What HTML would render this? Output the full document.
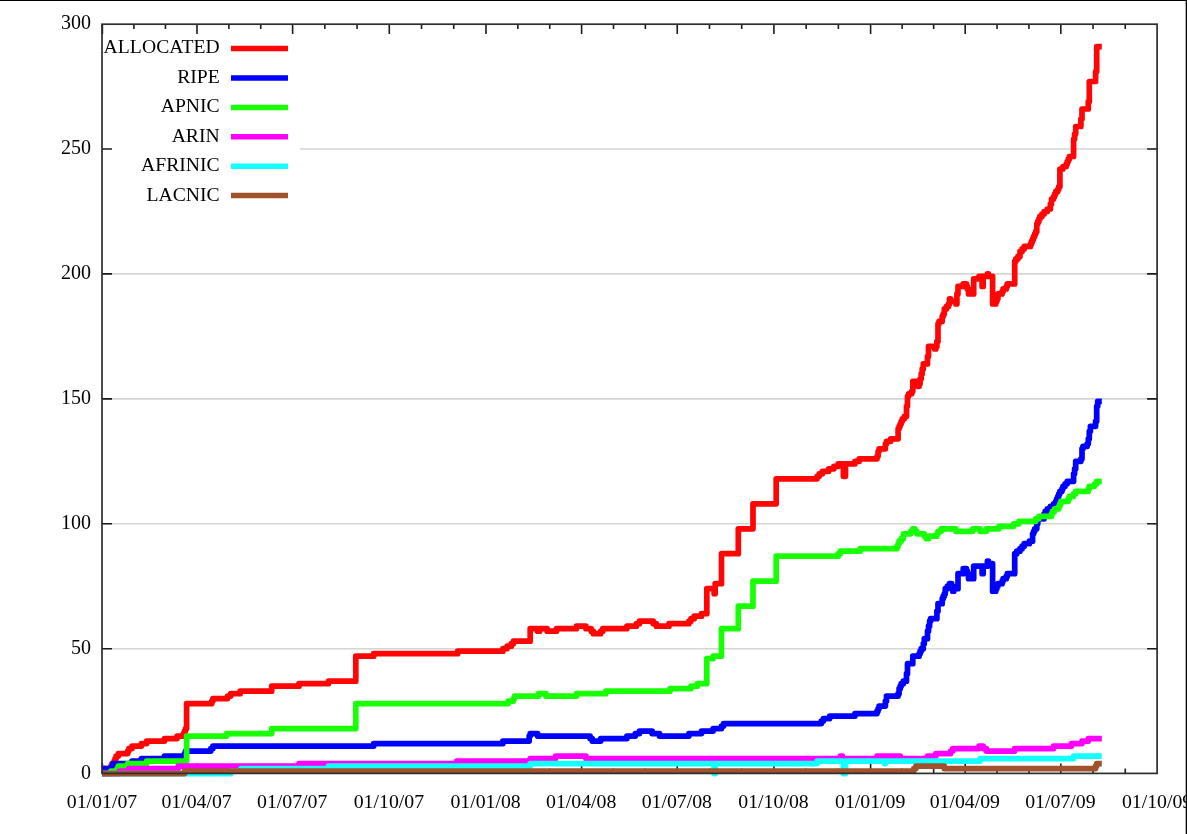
<!DOCTYPE html>
<html><head><meta charset="utf-8"><title>Allocations</title>
<style>
html,body{margin:0;padding:0;background:#fff;}
body{width:1187px;height:834px;overflow:hidden;font-family:"Liberation Serif",serif;}
svg{display:block;will-change:transform;}
text{font-family:"Liberation Serif",serif;fill:#000;}
</style></head>
<body>
<svg width="1187" height="834" viewBox="0 0 1187 834">
<rect x="0" y="0" width="1187" height="834" fill="#fff"/>
<g stroke="#d3d5d5" stroke-width="1.6" fill="none">
<path d="M102.0 648.68 H1157.1"/>
<path d="M102.0 523.76 H1157.1"/>
<path d="M102.0 398.84 H1157.1"/>
<path d="M102.0 273.91 H1157.1"/>
<path d="M300.0 148.99 H1157.1"/>
</g>
<g stroke="#1c1c1c" stroke-width="1.6" fill="none">
<path d="M102.40 773.6v-10M102.40 24.1v10M133.93 773.6v-5M133.93 24.1v5M165.45 773.6v-5M165.45 24.1v5M196.98 773.6v-10M196.98 24.1v10M228.86 773.6v-5M228.86 24.1v5M260.74 773.6v-5M260.74 24.1v5M292.61 773.6v-10M292.61 24.1v10M324.84 773.6v-5M324.84 24.1v5M357.07 773.6v-5M357.07 24.1v5M389.29 773.6v-10M389.29 24.1v10M421.52 773.6v-5M421.52 24.1v5M453.75 773.6v-5M453.75 24.1v5M485.98 773.6v-10M485.98 24.1v10M517.85 773.6v-5M517.85 24.1v5M549.73 773.6v-5M549.73 24.1v5M581.61 773.6v-10M581.61 24.1v10M613.49 773.6v-5M613.49 24.1v5M645.36 773.6v-5M645.36 24.1v5M677.24 773.6v-10M677.24 24.1v10M709.47 773.6v-5M709.47 24.1v5M741.70 773.6v-5M741.70 24.1v5M773.92 773.6v-10M773.92 24.1v10M806.15 773.6v-5M806.15 24.1v5M838.38 773.6v-5M838.38 24.1v5M870.61 773.6v-10M870.61 24.1v10M902.13 773.6v-5M902.13 24.1v5M933.66 773.6v-5M933.66 24.1v5M965.19 773.6v-10M965.19 24.1v10M997.06 773.6v-5M997.06 24.1v5M1028.94 773.6v-5M1028.94 24.1v5M1060.82 773.6v-10M1060.82 24.1v10M1093.05 773.6v-5M1093.05 24.1v5M1125.27 773.6v-5M1125.27 24.1v5M102.0 648.68h10M1157.1 648.68h-10M102.0 523.76h10M1157.1 523.76h-10M102.0 398.84h10M1157.1 398.84h-10M102.0 273.91h10M1157.1 273.91h-10M102.0 148.99h10M1157.1 148.99h-10"/>
</g>
<g fill="none" stroke-width="5.7" stroke-linejoin="round" stroke-linecap="butt">
<path stroke="#ff0505" d="M102.0 768.6L110.9 768.6L110.9 766.1L112.0 766.1L112.0 763.6L114.1 763.6L114.1 761.1L115.1 761.1L115.1 758.6L116.2 758.6L116.2 756.1L118.3 756.1L118.3 753.6L127.7 753.6L127.7 751.1L128.8 751.1L128.8 748.6L132.0 748.6L132.0 746.1L141.4 746.1L141.4 743.6L146.7 743.6L146.7 741.1L164.5 741.1L164.5 738.6L177.1 738.6L177.1 736.1L183.4 736.1L183.4 733.6L184.5 733.6L184.5 731.1L185.5 731.1L185.5 728.6L186.6 728.6L186.6 703.6L211.8 703.6L211.8 701.1L212.9 701.1L212.9 698.6L227.6 698.6L227.6 696.1L230.7 696.1L230.7 693.7L240.2 693.7L240.2 691.2L271.7 691.2L271.7 686.2L299.0 686.2L299.0 683.7L328.5 683.7L328.5 681.2L355.8 681.2L355.8 656.2L373.7 656.2L373.7 653.7L457.7 653.7L457.7 651.2L502.9 651.2L502.9 648.7L507.1 648.7L507.1 646.2L511.3 646.2L511.3 643.7L513.4 643.7L513.4 641.2L530.2 641.2L530.2 628.7L537.6 628.7L537.6 631.2L539.7 631.2L539.7 628.7L547.1 628.7L547.1 631.2L556.5 631.2L556.5 628.7L576.5 628.7L576.5 626.2L585.9 626.2L585.9 628.7L591.2 628.7L591.2 631.2L593.3 631.2L593.3 633.7L600.7 633.7L600.7 631.2L602.8 631.2L602.8 628.7L626.9 628.7L626.9 626.2L636.4 626.2L636.4 623.7L639.5 623.7L639.5 621.2L653.2 621.2L653.2 623.7L656.3 623.7L656.3 626.2L669.0 626.2L669.0 623.7L688.9 623.7L688.9 621.2L691.0 621.2L691.0 618.7L694.2 618.7L694.2 616.2L701.5 616.2L701.5 613.7L706.8 613.7L706.8 588.7L714.1 588.7L714.1 593.7L715.2 593.7L715.2 583.7L721.5 583.7L721.5 553.7L738.3 553.7L738.3 528.8L753.0 528.8L753.0 503.8L776.2 503.8L776.2 478.8L817.1 478.8L817.1 476.3L819.2 476.3L819.2 473.8L822.4 473.8L822.4 471.3L828.7 471.3L828.7 468.8L833.9 468.8L833.9 466.3L838.2 466.3L838.2 463.8L843.4 463.8L843.4 476.3L845.5 476.3L845.5 463.8L855.0 463.8L855.0 461.3L859.2 461.3L859.2 458.8L877.0 458.8L877.0 456.3L878.1 456.3L878.1 451.3L879.1 451.3L879.1 448.8L885.4 448.8L885.4 443.8L886.5 443.8L886.5 441.3L890.7 441.3L890.7 438.8L898.1 438.8L898.1 428.8L899.1 428.8L899.1 426.3L900.2 426.3L900.2 423.8L901.2 423.8L901.2 421.3L902.3 421.3L902.3 418.8L904.4 418.8L904.4 416.3L906.5 416.3L906.5 406.3L907.5 406.3L907.5 396.3L908.6 396.3L908.6 393.8L911.7 393.8L911.7 391.3L912.8 391.3L912.8 381.3L918.0 381.3L918.0 386.3L919.1 386.3L919.1 383.8L920.1 383.8L920.1 378.8L921.2 378.8L921.2 373.9L922.2 373.9L922.2 368.9L923.3 368.9L923.3 363.9L927.5 363.9L927.5 356.4L928.5 356.4L928.5 346.4L934.8 346.4L934.8 348.9L935.9 348.9L935.9 346.4L936.9 346.4L936.9 341.4L938.0 341.4L938.0 323.9L939.0 323.9L939.0 321.4L942.2 321.4L942.2 316.4L943.2 316.4L943.2 313.9L944.3 313.9L944.3 308.9L946.4 308.9L946.4 306.4L948.5 306.4L948.5 303.9L949.5 303.9L949.5 298.9L950.6 298.9L950.6 301.4L955.9 301.4L955.9 303.9L956.9 303.9L956.9 293.9L958.0 293.9L958.0 286.4L963.2 286.4L963.2 283.9L966.4 283.9L966.4 286.4L967.4 286.4L967.4 288.9L968.5 288.9L968.5 293.9L973.7 293.9L973.7 278.9L979.0 278.9L979.0 276.4L982.1 276.4L982.1 286.4L983.2 286.4L983.2 276.4L987.4 276.4L987.4 273.9L988.4 273.9L988.4 276.4L992.6 276.4L992.6 303.9L995.8 303.9L995.8 301.4L996.8 301.4L996.8 298.9L997.9 298.9L997.9 293.9L1002.1 293.9L1002.1 291.4L1003.1 291.4L1003.1 288.9L1006.3 288.9L1006.3 286.4L1007.3 286.4L1007.3 283.9L1014.7 283.9L1014.7 261.4L1015.8 261.4L1015.8 258.9L1017.9 258.9L1017.9 256.4L1020.0 256.4L1020.0 251.4L1022.1 251.4L1022.1 248.9L1024.2 248.9L1024.2 246.4L1030.5 246.4L1030.5 243.9L1031.5 243.9L1031.5 241.4L1032.6 241.4L1032.6 238.9L1033.6 238.9L1033.6 236.4L1034.7 236.4L1034.7 233.9L1035.7 233.9L1035.7 231.4L1036.8 231.4L1036.8 223.9L1037.8 223.9L1037.8 221.4L1038.9 221.4L1038.9 218.9L1039.9 218.9L1039.9 216.4L1042.0 216.4L1042.0 214.0L1044.1 214.0L1044.1 211.5L1047.3 211.5L1047.3 209.0L1050.4 209.0L1050.4 204.0L1051.5 204.0L1051.5 199.0L1053.6 199.0L1053.6 196.5L1054.6 196.5L1054.6 194.0L1055.7 194.0L1055.7 191.5L1057.8 191.5L1057.8 189.0L1058.8 189.0L1058.8 186.5L1059.9 186.5L1059.9 169.0L1063.0 169.0L1063.0 166.5L1066.2 166.5L1066.2 164.0L1067.2 164.0L1067.2 161.5L1068.3 161.5L1068.3 159.0L1069.4 159.0L1069.4 156.5L1073.6 156.5L1073.6 139.0L1074.6 139.0L1074.6 134.0L1075.7 134.0L1075.7 126.5L1080.9 126.5L1080.9 119.0L1082.0 119.0L1082.0 109.0L1088.3 109.0L1088.3 101.5L1089.3 101.5L1089.3 81.5L1095.6 81.5L1095.6 71.5L1096.7 71.5L1096.7 46.6L1101.8 46.6"/>
<path stroke="#0000ff" d="M102.0 768.6L112.0 768.6L112.0 766.1L113.0 766.1L113.0 763.6L132.0 763.6L132.0 761.1L141.4 761.1L141.4 758.6L164.5 758.6L164.5 756.1L184.5 756.1L184.5 753.6L185.5 753.6L185.5 751.1L210.8 751.1L210.8 748.6L212.9 748.6L212.9 746.1L373.7 746.1L373.7 743.6L502.9 743.6L502.9 741.1L529.2 741.1L529.2 736.1L530.2 736.1L530.2 733.6L537.6 733.6L537.6 736.1L590.1 736.1L590.1 738.6L592.2 738.6L592.2 741.1L600.7 741.1L600.7 738.6L626.9 738.6L626.9 736.1L635.3 736.1L635.3 733.6L639.5 733.6L639.5 731.1L652.1 731.1L652.1 733.6L659.5 733.6L659.5 736.1L688.9 736.1L688.9 733.6L701.5 733.6L701.5 731.1L713.1 731.1L713.1 728.6L721.5 728.6L721.5 726.1L723.6 726.1L723.6 723.6L821.3 723.6L821.3 721.1L823.4 721.1L823.4 718.6L829.7 718.6L829.7 716.1L855.0 716.1L855.0 713.6L877.0 713.6L877.0 711.1L878.1 711.1L878.1 708.6L879.1 708.6L879.1 706.1L885.4 706.1L885.4 701.1L886.5 701.1L886.5 696.1L898.1 696.1L898.1 693.7L899.1 693.7L899.1 688.7L900.2 688.7L900.2 686.2L901.2 686.2L901.2 683.7L903.3 683.7L903.3 681.2L906.5 681.2L906.5 673.7L907.5 673.7L907.5 663.7L912.8 663.7L912.8 656.2L919.1 656.2L919.1 653.7L920.1 653.7L920.1 651.2L921.2 651.2L921.2 648.7L923.3 648.7L923.3 643.7L924.3 643.7L924.3 638.7L927.5 638.7L927.5 631.2L928.5 631.2L928.5 626.2L929.6 626.2L929.6 621.2L930.6 621.2L930.6 618.7L936.9 618.7L936.9 611.2L938.0 611.2L938.0 603.7L942.2 603.7L942.2 598.7L943.2 598.7L943.2 596.2L944.3 596.2L944.3 593.7L945.3 593.7L945.3 588.7L947.4 588.7L947.4 586.2L949.5 586.2L949.5 583.7L951.6 583.7L951.6 586.2L952.7 586.2L952.7 591.2L953.8 591.2L953.8 588.7L958.0 588.7L958.0 573.7L963.2 573.7L963.2 568.7L966.4 568.7L966.4 571.2L967.4 571.2L967.4 573.7L968.5 573.7L968.5 578.7L973.7 578.7L973.7 566.2L982.1 566.2L982.1 573.7L983.2 573.7L983.2 566.2L987.4 566.2L987.4 561.2L988.4 561.2L988.4 563.7L992.6 563.7L992.6 591.2L995.8 591.2L995.8 588.7L996.8 588.7L996.8 586.2L997.9 586.2L997.9 583.7L1002.1 583.7L1002.1 581.2L1003.1 581.2L1003.1 578.7L1006.3 578.7L1006.3 576.2L1007.3 576.2L1007.3 573.7L1014.7 573.7L1014.7 553.7L1016.8 553.7L1016.8 551.2L1020.0 551.2L1020.0 548.7L1022.1 548.7L1022.1 546.2L1024.2 546.2L1024.2 543.7L1029.4 543.7L1029.4 541.2L1032.6 541.2L1032.6 533.8L1033.6 533.8L1033.6 531.3L1034.7 531.3L1034.7 528.8L1036.8 528.8L1036.8 523.8L1037.8 523.8L1037.8 518.8L1044.1 518.8L1044.1 513.8L1045.2 513.8L1045.2 511.3L1047.3 511.3L1047.3 508.8L1050.4 508.8L1050.4 506.3L1053.6 506.3L1053.6 503.8L1055.7 503.8L1055.7 501.3L1056.7 501.3L1056.7 498.8L1057.8 498.8L1057.8 496.3L1058.8 496.3L1058.8 493.8L1059.9 493.8L1059.9 491.3L1062.0 491.3L1062.0 488.8L1063.0 488.8L1063.0 486.3L1065.1 486.3L1065.1 483.8L1067.2 483.8L1067.2 481.3L1073.6 481.3L1073.6 473.8L1074.6 473.8L1074.6 468.8L1075.7 468.8L1075.7 461.3L1080.9 461.3L1080.9 458.8L1082.0 458.8L1082.0 448.8L1083.0 448.8L1083.0 446.3L1087.2 446.3L1087.2 443.8L1088.3 443.8L1088.3 438.8L1089.3 438.8L1089.3 431.3L1090.4 431.3L1090.4 426.3L1095.6 426.3L1095.6 421.3L1096.7 421.3L1096.7 406.3L1097.7 406.3L1097.7 401.3L1101.8 401.3"/>
<path stroke="#18ff06" d="M102.0 773.6L110.9 773.6L110.9 771.1L117.2 771.1L117.2 768.6L118.3 768.6L118.3 766.1L127.7 766.1L127.7 763.6L146.7 763.6L146.7 761.1L186.6 761.1L186.6 736.1L226.5 736.1L226.5 733.6L271.7 733.6L271.7 728.6L355.8 728.6L355.8 703.6L508.2 703.6L508.2 701.1L513.4 701.1L513.4 698.6L514.5 698.6L514.5 696.1L538.6 696.1L538.6 693.7L546.0 693.7L546.0 696.1L576.5 696.1L576.5 693.7L605.9 693.7L605.9 691.2L670.0 691.2L670.0 688.7L691.0 688.7L691.0 686.2L697.3 686.2L697.3 683.7L706.8 683.7L706.8 658.7L713.1 658.7L713.1 656.2L721.5 656.2L721.5 628.7L738.3 628.7L738.3 606.2L753.0 606.2L753.0 581.2L776.2 581.2L776.2 556.2L838.2 556.2L838.2 553.7L840.3 553.7L840.3 551.2L860.2 551.2L860.2 548.7L897.0 548.7L897.0 546.2L898.1 546.2L898.1 543.7L899.1 543.7L899.1 541.2L901.2 541.2L901.2 538.7L903.3 538.7L903.3 533.8L910.7 533.8L910.7 531.3L912.8 531.3L912.8 528.8L914.9 528.8L914.9 531.3L917.0 531.3L917.0 533.8L924.3 533.8L924.3 536.2L926.4 536.2L926.4 538.7L928.5 538.7L928.5 536.2L936.9 536.2L936.9 533.8L938.0 533.8L938.0 531.3L941.1 531.3L941.1 528.8L955.9 528.8L955.9 531.3L972.7 531.3L972.7 528.8L980.0 528.8L980.0 531.3L986.3 531.3L986.3 528.8L998.9 528.8L998.9 526.3L1013.7 526.3L1013.7 523.8L1018.9 523.8L1018.9 521.3L1035.7 521.3L1035.7 518.8L1038.9 518.8L1038.9 516.3L1051.5 516.3L1051.5 513.8L1052.5 513.8L1052.5 511.3L1054.6 511.3L1054.6 508.8L1058.8 508.8L1058.8 506.3L1059.9 506.3L1059.9 503.8L1060.9 503.8L1060.9 501.3L1068.3 501.3L1068.3 498.8L1069.4 498.8L1069.4 496.3L1073.6 496.3L1073.6 493.8L1075.7 493.8L1075.7 491.3L1088.3 491.3L1088.3 488.8L1089.3 488.8L1089.3 486.3L1094.6 486.3L1094.6 483.8L1096.7 483.8L1096.7 481.3L1101.8 481.3"/>
<path stroke="#ff00ff" d="M102.0 773.6L119.3 773.6L119.3 771.1L128.8 771.1L128.8 768.6L178.2 768.6L178.2 766.1L299.0 766.1L299.0 763.6L456.7 763.6L456.7 761.1L530.2 761.1L530.2 758.6L555.5 758.6L555.5 756.1L585.9 756.1L585.9 758.6L840.3 758.6L840.3 756.1L842.4 756.1L842.4 758.6L877.0 758.6L877.0 756.1L900.2 756.1L900.2 758.6L927.5 758.6L927.5 756.1L935.9 756.1L935.9 753.6L950.6 753.6L950.6 751.1L952.7 751.1L952.7 748.6L979.0 748.6L979.0 746.1L983.2 746.1L983.2 748.6L986.3 748.6L986.3 751.1L1014.7 751.1L1014.7 748.6L1053.6 748.6L1053.6 746.1L1071.5 746.1L1071.5 743.6L1082.0 743.6L1082.0 741.1L1088.3 741.1L1088.3 738.6L1101.8 738.6"/>
<path stroke="#14ffff" d="M102.0 773.6L230.7 773.6L230.7 771.1L241.2 771.1L241.2 768.6L328.5 768.6L328.5 766.1L530.2 766.1L530.2 763.6L714.1 763.6L714.1 773.6L715.2 773.6L715.2 763.6L817.1 763.6L817.1 761.1L843.4 761.1L843.4 773.6L845.5 773.6L845.5 761.1L884.4 761.1L884.4 763.6L885.4 763.6L885.4 761.1L980.0 761.1L980.0 758.6L1073.6 758.6L1073.6 756.1L1101.8 756.1"/>
<path stroke="#a0522d" d="M102.0 773.6L184.5 773.6L184.5 771.1L913.8 771.1L913.8 768.6L915.9 768.6L915.9 766.1L944.3 766.1L944.3 768.6L1095.6 768.6L1095.6 766.1L1096.7 766.1L1096.7 763.6L1101.8 763.6"/>
</g>
<rect x="102.0" y="24.2" width="1055.1" height="749.2" fill="none" stroke="#2e2e2e" stroke-width="1.7"/>
<g font-size="19.65px" text-anchor="end">
<text x="219.7" y="53.2" textLength="116.2" lengthAdjust="spacing">ALLOCATED</text>
<text x="219.7" y="83.0">RIPE</text>
<text x="219.7" y="112.4">APNIC</text>
<text x="219.7" y="141.8">ARIN</text>
<text x="219.7" y="171.2">AFRINIC</text>
<text x="219.7" y="200.6">LACNIC</text>
</g>
<g fill="none" stroke-width="5.5">
<path stroke="#ff0505" d="M231 48.6H288"/>
<path stroke="#0000ff" d="M231 78.0H288"/>
<path stroke="#18ff06" d="M231 107.4H288"/>
<path stroke="#ff00ff" d="M231 136.8H288"/>
<path stroke="#14ffff" d="M231 166.2H288"/>
<path stroke="#a0522d" d="M231 195.6H288"/>
</g>
<g font-size="20.0px" text-anchor="end">
<text x="91.0" y="778.6">0</text>
<text x="91.0" y="653.7">50</text>
<text x="91.0" y="528.8">100</text>
<text x="91.0" y="403.8">150</text>
<text x="91.0" y="278.9">200</text>
<text x="91.0" y="154.0">250</text>
<text x="91.0" y="29.1">300</text>
</g>
<g font-size="19.8px" text-anchor="middle">
<text x="102.0" y="807.8">01/01/07</text>
<text x="196.6" y="807.8">01/04/07</text>
<text x="292.2" y="807.8">01/07/07</text>
<text x="388.9" y="807.8">01/10/07</text>
<text x="485.6" y="807.8">01/01/08</text>
<text x="581.2" y="807.8">01/04/08</text>
<text x="676.8" y="807.8">01/07/08</text>
<text x="773.5" y="807.8">01/10/08</text>
<text x="870.2" y="807.8">01/01/09</text>
<text x="964.8" y="807.8">01/04/09</text>
<text x="1060.4" y="807.8">01/07/09</text>
<text x="1157.1" y="807.8">01/10/09</text>
</g>
<path d="M0 0.5H1187" stroke="#000" stroke-width="1" fill="none"/>
<path d="M1186.35 0V834" stroke="#000" stroke-width="1.3" fill="none"/>
</svg>
</body></html>
